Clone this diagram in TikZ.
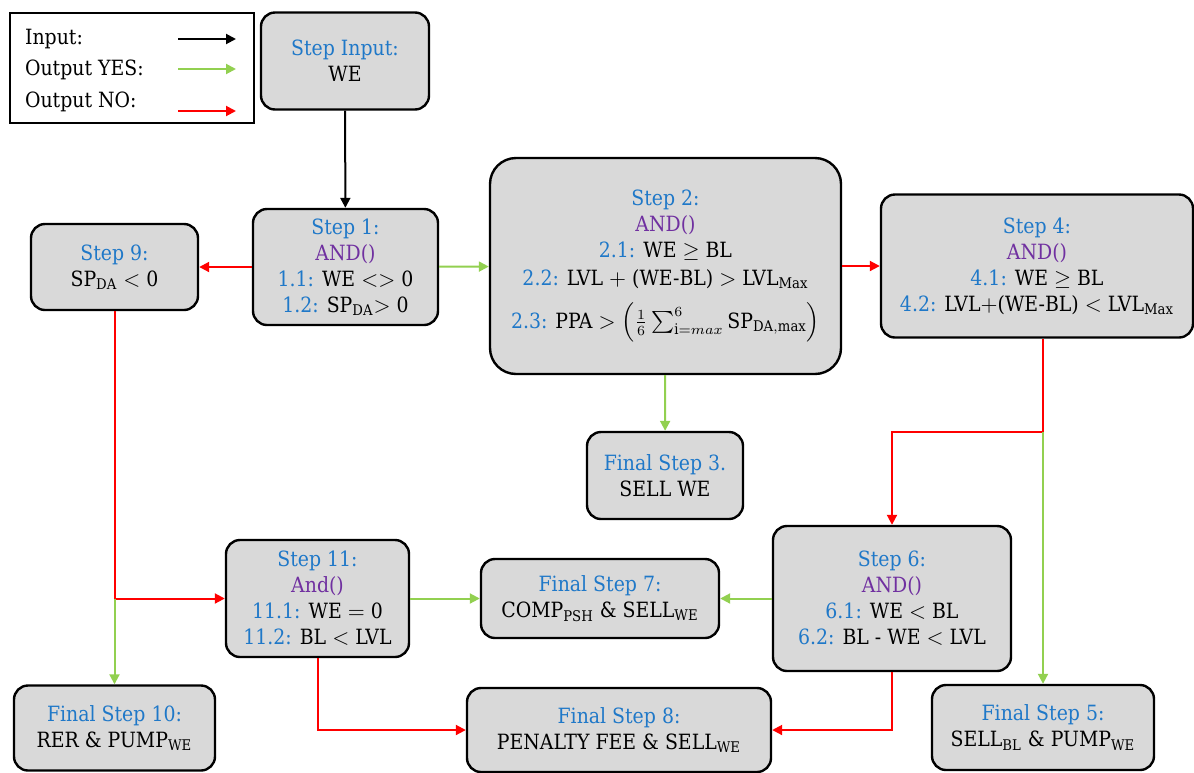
\documentclass[tikz,border=0pt]{standalone}
\usepackage{amsmath}
\usepackage{fontspec}
\setmainfont{DejaVu Serif Condensed}
\usetikzlibrary{arrows.meta,positioning,calc}
\definecolor{stepblue}{HTML}{1F78C8}
\definecolor{andpurple}{HTML}{7030A0}
\definecolor{yesgreen}{HTML}{92D050}
\definecolor{nored}{HTML}{FF0000}
\definecolor{boxgray}{HTML}{D9D9D9}

\begin{document}
\begin{tikzpicture}[x=0.5pt, y=-0.5pt, font=\fontsize{10.5}{13}\selectfont,
  stepbox/.style={draw=black, line width=1.2pt, rounded corners=7pt, fill=boxgray, align=center, inner sep=2pt},
  arrow/.style={-{Triangle[length=5pt,width=5pt]}, line width=1pt},
  inarrow/.style={arrow, draw=black},
  yesarrow/.style={arrow, draw=yesgreen},
  noarrow/.style={arrow, draw=nored}]
  \useasboundingbox (0,0) rectangle (1194,772);
  % legend
  \node[draw=black, line width=1pt, minimum width=122pt, minimum height=55pt] (legend) at (132,68) {};
  \node[anchor=west] (lin) at (18,39) {Input:};
  \node[anchor=west] (lyes) at (18,70) {Output YES:};
  \node[anchor=west] (lno) at (18,102) {Output NO:};
  \coordinate (lina) at (178,39); \coordinate (linb) at (236,39);
  \coordinate (lyesa) at (178,69); \coordinate (lyesb) at (236,69);
  \coordinate (lnoa) at (178,111); \coordinate (lnob) at (236,111);
  \draw[inarrow] (lina)--(linb);
  \draw[yesarrow] (lyesa)--(lyesb);
  \draw[noarrow] (lnoa)--(lnob);
  % steps
  \node[stepbox, minimum width=84pt, minimum height=48.5pt] (input) at (345,61) {\textcolor{stepblue}{Step Input:}\\WE};
  \node[stepbox, minimum width=92.5pt, minimum height=58pt] (step1) at (345.5,267) {\textcolor{stepblue}{Step 1:}\\\textcolor{andpurple}{AND()}\\\textcolor{stepblue}{1.1:} WE $<>$ 0\\\textcolor{stepblue}{1.2:} SP$_{\mathrm{DA}}$$>$ 0};
  \node[stepbox, minimum width=83.5pt, minimum height=43pt] (step9) at (114.5,267) {\textcolor{stepblue}{Step 9:}\\SP$_{\mathrm{DA}}$ $<$ 0};
  \node[stepbox, rounded corners=13pt, minimum width=175.5pt, minimum height=108pt] (step2) at (665.5,266) {\textcolor{stepblue}{Step 2:}\\\textcolor{andpurple}{AND()}\\\textcolor{stepblue}{2.1:} WE $\geq$ BL\\[1pt]\textcolor{stepblue}{2.2:} LVL $+$ (WE-BL) $>$ LVL$_{\mathrm{Max}}$\\[6pt]\textcolor{stepblue}{2.3:} PPA $>\left(\frac{1}{6}\sum_{\mathrm{i}=max}^{6}\mathrm{SP}_{\mathrm{DA,max}}\right)$};
  \node[stepbox, minimum width=156pt, minimum height=71.5pt] (step4) at (1037,266) {\textcolor{stepblue}{Step 4:}\\\textcolor{andpurple}{AND()}\\\textcolor{stepblue}{4.1:} WE $\geq$ BL\\\textcolor{stepblue}{4.2:} LVL$+$(WE-BL) $<$ LVL$_{\mathrm{Max}}$};
  \node[stepbox, minimum width=78pt, minimum height=43.5pt] (final3) at (665,475.5) {\textcolor{stepblue}{Final Step 3.}\\SELL WE};
  \node[stepbox, minimum width=91.5pt, minimum height=58.5pt] (step11) at (317.5,598.5) {\textcolor{stepblue}{Step 11:}\\\textcolor{andpurple}{And()}\\\textcolor{stepblue}{11.1:} WE $=$ 0\\\textcolor{stepblue}{11.2:} BL $<$ LVL};
  \node[stepbox, minimum width=119pt, minimum height=39.5pt] (final7) at (600,598.5) {\textcolor{stepblue}{Final Step 7:}\\COMP$_{\mathrm{PSH}}$ \& SELL$_{\mathrm{WE}}$};
  \node[stepbox, minimum width=119pt, minimum height=72.5pt] (step6) at (892,598.5) {\textcolor{stepblue}{Step 6:}\\\textcolor{andpurple}{AND()}\\\textcolor{stepblue}{6.1:} WE $<$ BL\\\textcolor{stepblue}{6.2:} BL - WE $<$ LVL};
  \node[stepbox, minimum width=100.5pt, minimum height=42.5pt] (final10) at (114.5,728) {\textcolor{stepblue}{Final Step 10:}\\RER \& PUMP$_{\mathrm{WE}}$};
  \node[stepbox, minimum width=152pt, minimum height=42pt] (final8) at (619,730) {\textcolor{stepblue}{Final Step 8:}\\PENALTY FEE \& SELL$_{\mathrm{WE}}$};
  \node[stepbox, minimum width=111pt, minimum height=42.5pt] (final5) at (1043,727.5) {\textcolor{stepblue}{Final Step 5:}\\SELL$_{\mathrm{BL}}$ \& PUMP$_{\mathrm{WE}}$};
  % junctions
  \coordinate (j9) at (step9.south |- step11.west);
  \coordinate (j4) at (1043,432);
  % connectors
  \draw[inarrow] (input)--(step1);
  \draw[yesarrow] (step1)--(step2);
  \draw[noarrow] (step1)--(step9);
  \draw[noarrow] (step2)--(step4);
  \draw[yesarrow] (step2)--(final3);
  \draw[nored, line width=1pt] (j4 |- step4.south)--(j4);
  \draw[noarrow] (j4) -| (step6.north);
  \draw[yesarrow] (j4)--(final5.north);
  \draw[nored, line width=1pt] (step9.south)--(j9);
  \draw[noarrow] (j9)--(step11.west);
  \draw[yesarrow] (j9)--(final10.north);
  \draw[yesarrow] (step11)--(final7);
  \draw[yesarrow] (step6)--(final7);
  \draw[noarrow] (step11.south) |- (final8.west);
  \draw[noarrow] (step6.south) |- (final8.east);
\end{tikzpicture}
\end{document}
